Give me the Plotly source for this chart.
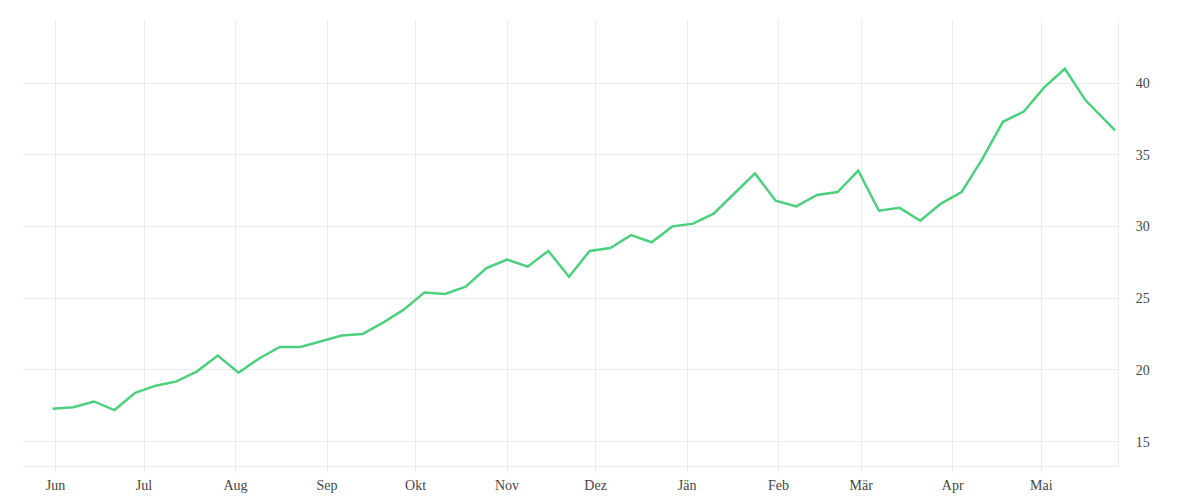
import pandas as pd
import plotly.graph_objects as go

# weekly values
dates = list(pd.date_range("2022-05-31", periods=51, freq="7D")) + [pd.Timestamp("2023-05-26")]
values = [17.3, 17.4, 17.8, 17.2, 18.4, 18.9, 19.2, 19.9, 21.0, 19.8,
          20.8, 21.6, 21.6, 22.0, 22.4, 22.5, 23.3, 24.2, 25.4, 25.3,
          25.8, 27.1, 27.7, 27.2, 28.3, 26.5, 28.3, 28.5, 29.4, 28.9,
          30.0, 30.2, 30.9, 32.3, 33.7, 31.8, 31.4, 32.2, 32.4, 33.9,
          31.1, 31.3, 30.4, 31.6, 32.4, 34.7, 37.3, 38.0, 39.7, 41.0,
          38.8, 36.7]
tick_dates = pd.date_range("2022-06-01", periods=12, freq="MS")
tick_labels = ["Jun", "Jul", "Aug", "Sep", "Okt", "Nov", "Dez", "Jän", "Feb", "Mär", "Apr", "Mai"]

fig = go.Figure(go.Scatter(x=dates, y=values, mode="lines",
                           line=dict(color="#4cd07d", width=2.5)))

grid = "#ececec"
fig.update_layout(
    width=1200, height=500,
    margin=dict(l=15, r=90, t=12, b=42),
    plot_bgcolor="white", paper_bgcolor="white",
    showlegend=False,
    font=dict(family="Liberation Serif", size=14, color="#444"),
)
fig.update_xaxes(range=[pd.Timestamp("2022-05-21"), pd.Timestamp("2023-05-27")],
                 tickvals=tick_dates, ticktext=tick_labels,
                 showgrid=True, gridcolor=grid, zeroline=False,
                 showline=True, linecolor=grid, mirror=False,
                 ticks="outside", ticklen=6, tickcolor=grid)
fig.update_yaxes(side="right", range=[13.3, 44.4], tickvals=[15, 20, 25, 30, 35, 40],
                 showgrid=True, gridcolor=grid, zeroline=False,
                 showline=True, linecolor=grid, ticks="", ticklabelstandoff=14)

fig.write_html("out.html")
